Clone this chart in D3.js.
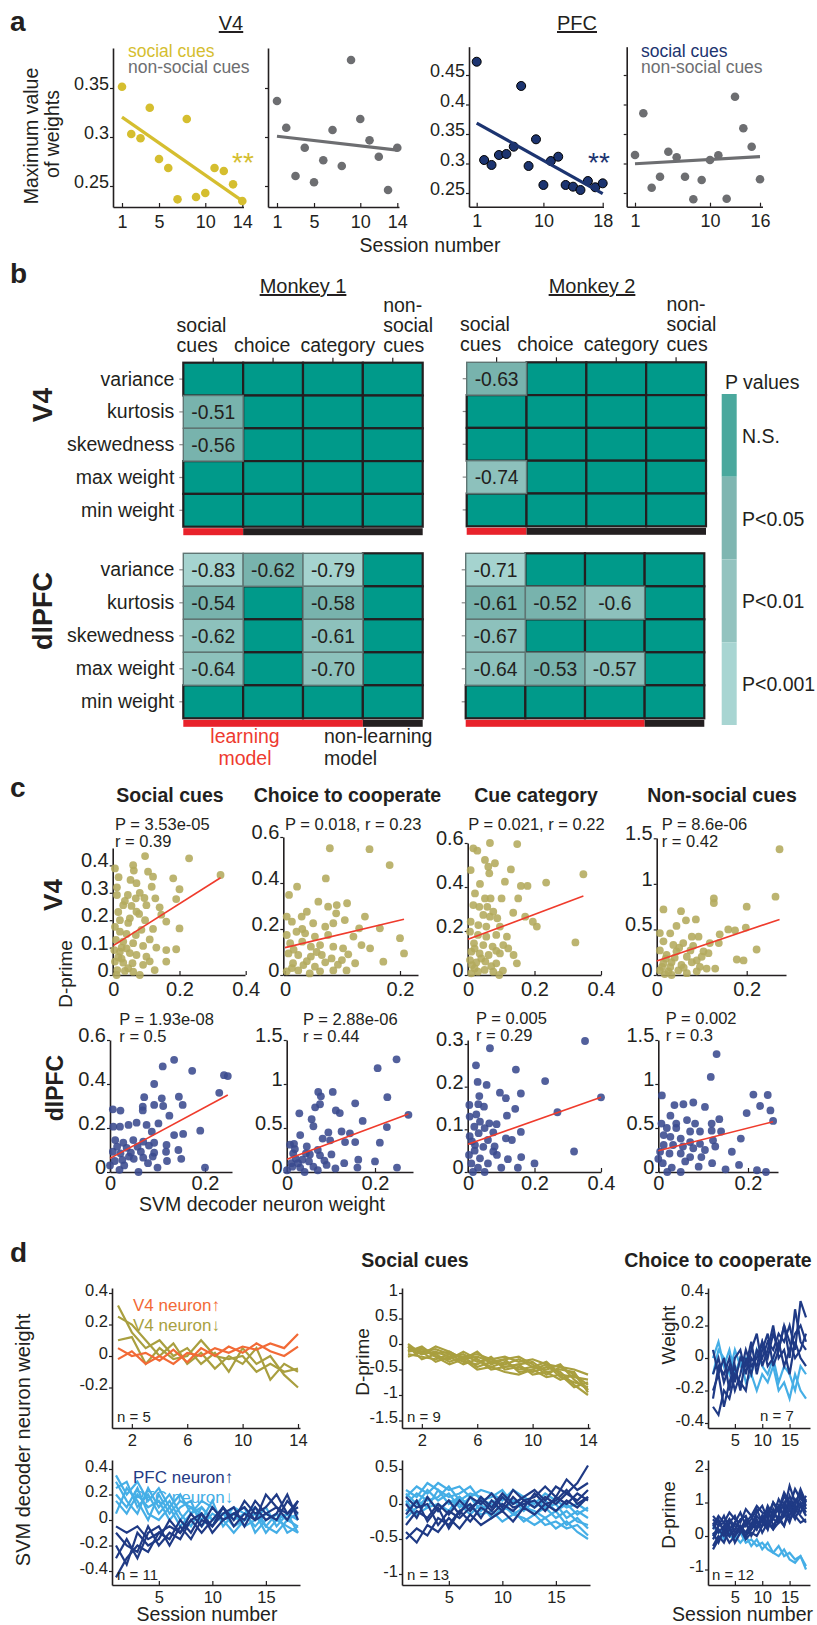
<!DOCTYPE html>
<html>
<head>
<meta charset="utf-8">
<script src="https://cdn.jsdelivr.net/npm/d3@7"></script>
<style>
  body { margin: 0; background: #fff; }
  svg { display: block; }
</style>
</head>
<body>
<svg id="fig" width="817" height="1625"></svg>
<script>
// ---------- panel a: maximum weight per session ----------
const v4SocialMax = [0.3513, 0.3031, 0.2987, 0.3299, 0.2776, 0.2684, 0.2364, 0.3184, 0.2388, 0.2429, 0.2684, 0.2653, 0.2517, 0.2347];
const v4NonSocialMax = [0.3367, 0.3095, 0.2602, 0.2891, 0.2538, 0.2762, 0.3071, 0.2704, 0.3786, 0.3184, 0.2966, 0.2799, 0.2459, 0.2891];
const pfcSocialMax = [0.4725, 0.3059, 0.2975, 0.3144, 0.3161, 0.3285, 0.4314, 0.2958, 0.341, 0.2636, 0.3042, 0.3115, 0.2636, 0.2607, 0.2551, 0.2703, 0.2597, 0.2664];
const pfcNonSocialMax = [0.3144, 0.3851, 0.259, 0.2776, 0.32, 0.3105, 0.2776, 0.2393, 0.272, 0.3059, 0.3139, 0.2403, 0.4132, 0.3597, 0.3285, 0.2732];
const aTicksV4 = [1, 5, 10, 14];
const aTicksPfc = [1, 10, 18];
const aTicksPfcNs = [1, 10, 16];
const aYTicksV4 = [0.25, 0.3, 0.35];
const aYTicksPfc = [0.25, 0.3, 0.35, 0.4, 0.45];

// ---------- panel b: correlation tables ----------
const bRows = ["variance", "kurtosis", "skewedness", "max weight", "min weight"];
const bCols = ["social cues", "choice", "category", "non-social cues"];
// r labels ("" = not significant) and p class (0 N.S., 1 P<0.05, 2 P<0.01, 3 P<0.001)
const m1V4R = [["", "", "", ""], ["-0.51", "", "", ""], ["-0.56", "", "", ""], ["", "", "", ""], ["", "", "", ""]];
const m1V4P = [[0, 0, 0, 0], [1, 0, 0, 0], [1, 0, 0, 0], [0, 0, 0, 0], [0, 0, 0, 0]];
const m2V4R = [["-0.63", "", "", ""], ["", "", "", ""], ["", "", "", ""], ["-0.74", "", "", ""], ["", "", "", ""]];
const m2V4P = [[1, 0, 0, 0], [0, 0, 0, 0], [0, 0, 0, 0], [2, 0, 0, 0], [0, 0, 0, 0]];
const m1PfcR = [["-0.83", "-0.62", "-0.79", ""], ["-0.54", "", "-0.58", ""], ["-0.62", "", "-0.61", ""], ["-0.64", "", "-0.70", ""], ["", "", "", ""]];
const m1PfcP = [[3, 1, 3, 0], [1, 0, 1, 0], [2, 0, 2, 0], [2, 0, 2, 0], [0, 0, 0, 0]];
const m2PfcR = [["-0.71", "", "", ""], ["-0.61", "-0.52", "-0.6", ""], ["-0.67", "", "", ""], ["-0.64", "-0.53", "-0.57", ""], ["", "", "", ""]];
const m2PfcP = [[3, 0, 0, 0], [1, 1, 2, 0], [2, 0, 0, 0], [2, 1, 2, 0], [0, 0, 0, 0]];
const learningCols = [1, 1, 3, 3]; // m1 V4, m2 V4, m1 dlPFC, m2 dlPFC
const pLegend = ["N.S.", "P<0.05", "P<0.01", "P<0.001"];

// ---------- panel c: d-prime vs decoder weight ----------
const cTitles = ["Social cues", "Choice to cooperate", "Cue category", "Non-social cues"];
const cStats = [
  ["P = 3.53e-05", "r = 0.39"], ["P = 0.018, r = 0.23"], ["P = 0.021, r = 0.22"], ["P = 8.6e-06", "r = 0.42"],
  ["P = 1.93e-08", "r = 0.5"], ["P = 2.88e-06", "r = 0.44"], ["P = 0.005", "r = 0.29"], ["P = 0.002", "r = 0.3"]
];
// fitted line: value at weight 0 and at the largest weight
const cFitStart = [0.107, 0.119, 0.162, 0.154, 0.062, 0.144, 0.065, 0.242];
const cFitEnd = [0.355, 0.242, 0.359, 0.61, 0.35, 0.66, 0.175, 0.572];
const cV4Social = [[0.096,0.434],[0.229,0.426],[0.324,0.365],[0.005,0.389],[0.06,0.401],[0.062,0.381],[0.016,0.357],[0.105,0.377],[0.12,0.359],[0.052,0.347],[0.07,0.335],[0.181,0.353],[0.011,0.32],[0.116,0.322],[0.2,0.313],[0.044,0.292],[0.011,0.292],[0.068,0.28],[0.094,0.281],[0.127,0.28],[0.19,0.277],[0.03,0.255],[0.055,0.252],[0.1,0.255],[0.14,0.247],[0.07,0.231],[0.078,0.223],[0.05,0.207],[0.02,0.2],[0.096,0.2],[0.16,0.195],[0.12,0.168],[0.005,0.176],[0.02,0.158],[0.04,0.15],[0.068,0.146],[0.2,0.17],[0.008,0.128],[0.03,0.122],[0.06,0.116],[0.09,0.106],[0.003,0.091],[0.02,0.085],[0.04,0.097],[0.16,0.091],[0.19,0.094],[0.07,0.073],[0.1,0.067],[0.005,0.049],[0.03,0.045],[0.058,0.043],[0.16,0.049],[0.09,0.037],[0.012,0.018],[0.035,0.015],[0.06,0.012],[0.125,0.018],[0.01,0.0],[0.08,0.0],[0.045,0.19],[0.085,0.165],[0.025,0.06],[0.11,0.13],[0.015,0.23],[0.035,0.27],[0.08,0.3],[0.025,0.1],[0.05,0.08],[0.015,0.065],[0.11,0.05],[0.045,0.025],[0.13,0.1],[0.145,0.22]];
const cV4Choice = [[0.078,0.551],[0.147,0.547],[0.182,0.478],[0.071,0.42],[0.007,0.348],[0.021,0.384],[0.003,0.254],[0.012,0.232],[0.029,0.254],[0.038,0.275],[0.058,0.319],[0.075,0.297],[0.09,0.304],[0.108,0.312],[0.089,0.268],[0.049,0.225],[0.07,0.21],[0.084,0.225],[0.104,0.239],[0.139,0.254],[0.129,0.203],[0.165,0.203],[0.2,0.16],[0.207,0.094],[0.003,0.174],[0.02,0.188],[0.035,0.181],[0.052,0.167],[0.075,0.174],[0.119,0.167],[0.009,0.138],[0.03,0.145],[0.045,0.123],[0.061,0.13],[0.084,0.123],[0.101,0.116],[0.133,0.13],[0.148,0.116],[0.006,0.094],[0.023,0.087],[0.045,0.08],[0.064,0.087],[0.081,0.072],[0.099,0.065],[0.122,0.051],[0.014,0.051],[0.032,0.043],[0.052,0.036],[0.07,0.055],[0.003,0.016],[0.023,0.02],[0.043,0.007],[0.061,0.016],[0.084,0.02],[0.107,0.02],[0.171,0.058],[0.015,0.11],[0.038,0.06],[0.055,0.1],[0.092,0.045],[0.012,0.03],[0.03,0.2],[0.11,0.09]];
const cV4Category = [[0.066,0.6],[0.148,0.595],[0.016,0.576],[0.028,0.565],[0.051,0.523],[0.081,0.508],[0.061,0.492],[0.008,0.477],[0.129,0.48],[0.347,0.458],[0.064,0.462],[0.235,0.42],[0.111,0.424],[0.036,0.414],[0.159,0.405],[0.179,0.405],[0.021,0.371],[0.051,0.348],[0.068,0.348],[0.101,0.348],[0.151,0.348],[0.016,0.318],[0.034,0.31],[0.058,0.31],[0.076,0.288],[0.136,0.283],[0.046,0.273],[0.066,0.265],[0.088,0.258],[0.172,0.265],[0.195,0.242],[0.207,0.22],[0.008,0.242],[0.031,0.227],[0.055,0.22],[0.096,0.22],[0.006,0.197],[0.03,0.182],[0.055,0.174],[0.085,0.182],[0.117,0.174],[0.018,0.144],[0.046,0.136],[0.074,0.129],[0.106,0.136],[0.121,0.121],[0.323,0.148],[0.01,0.106],[0.035,0.098],[0.062,0.091],[0.096,0.098],[0.137,0.091],[0.006,0.068],[0.025,0.057],[0.052,0.061],[0.085,0.053],[0.147,0.053],[0.02,0.03],[0.05,0.023],[0.076,0.015],[0.105,0.02],[0.01,0.008],[0.094,0.0],[0.02,0.12],[0.04,0.075],[0.07,0.04],[0.012,0.045],[0.03,0.015],[0.085,0.11]];
const cV4NonSocial = [[0.273,1.38],[0.264,0.86],[0.127,0.84],[0.127,0.79],[0.2,0.75],[0.015,0.72],[0.054,0.7],[0.087,0.61],[0.065,0.6],[0.159,0.5],[0.174,0.49],[0.198,0.52],[0.007,0.46],[0.03,0.457],[0.044,0.538],[0.078,0.42],[0.093,0.42],[0.14,0.446],[0.118,0.35],[0.138,0.35],[0.222,0.28],[0.015,0.37],[0.037,0.33],[0.059,0.35],[0.081,0.32],[0.104,0.26],[0.007,0.27],[0.022,0.22],[0.044,0.26],[0.067,0.2],[0.089,0.16],[0.115,0.24],[0.178,0.17],[0.193,0.16],[0.015,0.13],[0.033,0.14],[0.055,0.11],[0.078,0.14],[0.096,0.09],[0.111,0.07],[0.13,0.07],[0.007,0.05],[0.026,0.04],[0.048,0.05],[0.067,0.02],[0.089,0.04],[0.033,0.0],[0.05,0.3],[0.02,0.18],[0.012,0.09],[0.04,0.19],[0.06,0.08],[0.075,0.27],[0.1,0.2],[0.03,0.085],[0.018,0.01]];
const cPfcSocial = [[0.135,0.51],[0.111,0.48],[0.173,0.46],[0.24,0.44],[0.248,0.436],[0.093,0.4],[0.23,0.36],[0.072,0.34],[0.109,0.335],[0.145,0.342],[0.153,0.305],[0.069,0.297],[0.093,0.305],[0.112,0.3],[0.069,0.28],[0.006,0.285],[0.022,0.279],[0.125,0.256],[0.007,0.206],[0.021,0.206],[0.039,0.214],[0.056,0.224],[0.077,0.214],[0.102,0.221],[0.19,0.188],[0.154,0.173],[0.135,0.168],[0.088,0.183],[0.011,0.145],[0.028,0.133],[0.049,0.145],[0.07,0.138],[0.093,0.133],[0.119,0.123],[0.144,0.1],[0.006,0.092],[0.022,0.085],[0.044,0.088],[0.065,0.092],[0.093,0.088],[0.118,0.092],[0.01,0.05],[0.03,0.03],[0.05,0.06],[0.08,0.04],[0.1,0.02],[0.02,0.01],[0.06,0.0],[0.12,0.05],[0.04,0.07],[0.0,0.03],[0.09,0.07],[0.15,0.06],[0.2,0.02],[0.015,0.115],[0.035,0.11],[0.058,0.115],[0.082,0.12],[0.026,0.055],[0.07,0.065]];
const cPfcChoice = [[0.249,1.28],[0.206,1.18],[0.228,0.85],[0.071,0.91],[0.104,0.91],[0.077,0.86],[0.064,0.735],[0.075,0.77],[0.111,0.7],[0.12,0.67],[0.155,0.78],[0.172,0.58],[0.276,0.65],[0.227,0.51],[0.211,0.333],[0.028,0.667],[0.056,0.6],[0.06,0.52],[0.094,0.45],[0.124,0.46],[0.143,0.44],[0.155,0.34],[0.132,0.34],[0.098,0.36],[0.081,0.38],[0.007,0.31],[0.016,0.32],[0.03,0.42],[0.045,0.29],[0.07,0.25],[0.014,0.21],[0.043,0.21],[0.075,0.19],[0.101,0.2],[0.162,0.14],[0.01,0.1],[0.03,0.05],[0.05,0.12],[0.07,0.02],[0.09,0.08],[0.11,0.04],[0.02,0.15],[0.13,0.1],[0.04,0.0],[0.06,0.06],[0.16,0.05],[0.2,0.12],[0.25,0.05],[0.0,0.02],[0.018,0.26],[0.035,0.14],[0.052,0.2],[0.085,0.13],[0.012,0.06],[0.025,0.1]];
const cPfcCategory = [[0.352,0.307],[0.066,0.29],[0.024,0.25],[0.144,0.24],[0.232,0.213],[0.029,0.211],[0.056,0.204],[0.096,0.186],[0.159,0.184],[0.114,0.173],[0.034,0.178],[0.4,0.175],[0.004,0.157],[0.031,0.159],[0.048,0.153],[0.142,0.148],[0.269,0.14],[0.117,0.132],[0.005,0.13],[0.036,0.118],[0.064,0.114],[0.086,0.112],[0.019,0.106],[0.05,0.103],[0.032,0.091],[0.076,0.093],[0.159,0.094],[0.114,0.079],[0.132,0.075],[0.005,0.084],[0.021,0.063],[0.046,0.059],[0.076,0.048],[0.319,0.048],[0.003,0.04],[0.036,0.032],[0.087,0.04],[0.16,0.035],[0.01,0.02],[0.03,0.01],[0.06,0.02],[0.1,0.01],[0.12,0.03],[0.02,0.05],[0.08,0.06],[0.05,0.0],[0.15,0.01],[0.2,0.02],[0.012,0.072],[0.025,0.135],[0.06,0.075],[0.015,0.0]];
const cPfcNonSocial = [[0.13,1.34],[0.117,1.08],[0.008,0.87],[0.212,0.88],[0.244,0.875],[0.036,0.76],[0.056,0.77],[0.078,0.79],[0.104,0.74],[0.227,0.75],[0.25,0.7],[0.197,0.67],[0.256,0.58],[0.027,0.64],[0.04,0.55],[0.064,0.59],[0.082,0.55],[0.119,0.55],[0.136,0.6],[0.007,0.55],[0.019,0.5],[0.04,0.5],[0.071,0.46],[0.093,0.46],[0.119,0.47],[0.14,0.46],[0.184,0.38],[0.012,0.42],[0.027,0.4],[0.05,0.38],[0.071,0.34],[0.093,0.32],[0.122,0.36],[0.012,0.307],[0.033,0.307],[0.055,0.29],[0.078,0.27],[0.104,0.25],[0.127,0.29],[0.164,0.23],[0.004,0.23],[0.025,0.21],[0.05,0.21],[0.071,0.17],[0.096,0.17],[0.01,0.1],[0.03,0.05],[0.06,0.12],[0.09,0.06],[0.12,0.1],[0.15,0.03],[0.18,0.08],[0.22,0.02],[0.24,0.0],[0.05,0.0],[0.0,0.15],[0.02,0.0]];

// ---------- panel d: single neurons across sessions ----------
const dV4WeightUp = [
  [-0.02, 0.03, -0.05, 0.0, -0.05, 0.02, 0.0, 0.05, 0.02, 0.06, 0.04, 0.08, 0.05, 0.14],
  [0.05, 0.0, 0.02, -0.03, 0.04, -0.04, 0.05, 0.0, 0.06, 0.02, 0.08, 0.03, 0.0, 0.06]
];
const dV4WeightDown = [
  [0.32, 0.15, 0.05, 0.1, 0.0, 0.05, -0.05, 0.02, -0.1, 0.05, -0.05, 0.0, -0.12, -0.2],
  [0.25, 0.2, 0.1, 0.0, 0.08, -0.05, 0.02, -0.08, 0.0, -0.05, 0.05, -0.15, -0.05, -0.1],
  [0.1, 0.12, -0.05, 0.05, -0.02, 0.0, 0.1, 0.0, -0.02, 0.0, -0.1, -0.05, -0.1, -0.08]
];
const dV4Dprime = [
  [-0.05, -0.15, -0.1, -0.2, -0.25, -0.2, -0.3, -0.25, -0.35, -0.3, -0.4, -0.45, -0.6, -0.8],
  [-0.1, -0.1, -0.2, -0.15, -0.3, -0.25, -0.35, -0.4, -0.3, -0.45, -0.5, -0.4, -0.7, -0.9],
  [0.0, -0.2, -0.15, -0.25, -0.2, -0.35, -0.3, -0.45, -0.4, -0.35, -0.55, -0.5, -0.55, -0.95],
  [-0.15, -0.05, -0.25, -0.3, -0.15, -0.3, -0.45, -0.35, -0.5, -0.45, -0.35, -0.6, -0.65, -0.7],
  [-0.2, -0.25, -0.3, -0.2, -0.35, -0.4, -0.25, -0.5, -0.45, -0.55, -0.45, -0.55, -0.8, -1.0],
  [-0.1, -0.2, -0.05, -0.15, -0.3, -0.15, -0.4, -0.3, -0.25, -0.4, -0.6, -0.45, -0.5, -0.6],
  [-0.05, -0.3, -0.2, -0.35, -0.25, -0.45, -0.35, -0.3, -0.55, -0.5, -0.4, -0.65, -0.75, -0.85],
  [-0.25, -0.15, -0.35, -0.25, -0.4, -0.3, -0.5, -0.45, -0.4, -0.6, -0.55, -0.7, -0.6, -0.9],
  [-0.15, -0.1, -0.25, -0.4, -0.3, -0.5, -0.45, -0.55, -0.6, -0.5, -0.65, -0.6, -0.85, -0.75]
];
const dChoiceWeightDown = [
  [0.0, 0.1, -0.05, 0.05, -0.1, 0.0, -0.15, -0.1, -0.2, -0.1, -0.15, -0.05, -0.2, -0.15, -0.25, -0.1, -0.2, -0.25],
  [-0.1, 0.05, 0.0, -0.1, 0.05, -0.05, 0.0, -0.1, 0.05, -0.05, -0.1, 0.0, -0.15, -0.05, -0.1, -0.2, -0.05, -0.1]
];
const dChoiceWeightUp = [
  [-0.2, -0.1, -0.3, -0.15, -0.05, -0.2, 0.0, -0.1, 0.05, 0.0, 0.1, 0.05, 0.15, 0.1, 0.2, 0.05, 0.35, 0.25],
  [-0.3, -0.35, -0.2, -0.25, -0.1, -0.15, -0.2, 0.0, -0.05, 0.1, 0.0, 0.15, 0.05, 0.2, 0.0, 0.3, 0.1, 0.05],
  [0.05, -0.1, 0.0, -0.2, 0.0, 0.05, -0.1, 0.05, 0.15, -0.05, 0.05, 0.2, 0.0, 0.05, -0.1, 0.1, 0.0, -0.05],
  [-0.1, 0.0, -0.15, -0.05, -0.2, -0.1, 0.05, -0.05, 0.0, 0.1, -0.05, 0.0, 0.1, -0.05, 0.05, 0.15, 0.2, 0.1],
  [-0.25, -0.05, -0.1, 0.0, -0.15, 0.0, -0.05, 0.1, -0.1, 0.05, 0.15, -0.05, 0.05, 0.2, 0.1, 0.0, 0.05, 0.15]
];
const dPfcWeightDown = [
  [0.35, 0.2, 0.3, 0.15, 0.25, 0.1, 0.2, 0.05, 0.15, 0.1, 0.0, 0.1, 0.05, -0.05, 0.05, 0.0, -0.05, -0.1],
  [0.25, 0.3, 0.1, 0.2, 0.05, 0.15, 0.0, 0.1, 0.05, -0.05, 0.1, 0.0, 0.05, 0.1, -0.05, 0.05, 0.0, 0.05],
  [0.15, 0.05, 0.2, 0.1, 0.15, 0.0, 0.1, 0.15, -0.05, 0.05, 0.0, -0.1, 0.0, 0.05, -0.05, -0.1, 0.0, -0.05],
  [0.3, 0.15, 0.05, 0.25, 0.1, 0.2, 0.05, -0.05, 0.1, 0.0, 0.05, 0.05, -0.05, 0.0, 0.1, -0.05, 0.05, 0.0],
  [0.05, 0.25, 0.15, 0.0, 0.2, 0.05, 0.15, 0.1, 0.0, 0.15, -0.05, 0.05, 0.1, -0.1, 0.0, 0.05, -0.1, -0.05],
  [0.2, 0.1, 0.25, 0.05, 0.0, 0.1, -0.05, 0.05, 0.1, 0.0, 0.05, -0.05, 0.0, 0.05, -0.1, 0.0, 0.05, -0.1]
];
const dPfcWeightUp = [
  [-0.45, -0.3, -0.2, -0.25, -0.1, -0.15, 0.0, -0.1, 0.05, -0.05, 0.1, 0.0, 0.15, 0.05, 0.1, 0.2, 0.05, 0.1],
  [-0.2, -0.35, -0.1, -0.2, -0.15, 0.0, -0.1, 0.05, -0.05, 0.1, 0.0, 0.05, 0.0, 0.15, 0.05, 0.0, 0.15, 0.05],
  [-0.1, -0.2, -0.25, -0.05, -0.2, -0.1, -0.15, 0.0, -0.1, 0.0, 0.1, -0.05, 0.05, 0.0, 0.2, 0.1, 0.0, 0.15],
  [-0.3, -0.15, -0.3, -0.1, -0.05, -0.2, -0.05, -0.15, 0.0, -0.05, 0.05, 0.1, -0.05, 0.1, 0.0, 0.05, 0.2, 0.0],
  [-0.05, -0.1, -0.05, -0.15, -0.1, -0.05, -0.1, 0.0, 0.05, -0.1, 0.0, 0.05, 0.1, 0.0, 0.05, 0.1, 0.05, 0.15]
];
const dPfcDprimeDown = [
  [0.1, 0.25, 0.15, 0.3, 0.2, 0.25, 0.1, 0.2, 0.15, 0.05, 0.2, 0.1, 0.0, 0.15, 0.05, -0.05, 0.0, -0.1],
  [0.2, 0.1, 0.3, 0.2, 0.1, 0.15, 0.25, 0.05, 0.1, 0.2, 0.0, 0.1, -0.05, 0.05, -0.1, 0.0, -0.15, -0.05],
  [0.0, 0.15, 0.05, 0.1, 0.25, 0.05, 0.15, 0.1, -0.05, 0.1, 0.05, -0.1, 0.05, -0.05, 0.0, -0.2, -0.1, -0.2],
  [-0.1, 0.05, -0.05, 0.2, 0.0, 0.1, -0.05, 0.05, 0.0, -0.1, 0.05, 0.0, -0.15, -0.05, -0.2, -0.1, -0.25, -0.3],
  [0.15, 0.0, 0.2, 0.05, 0.15, -0.05, 0.1, -0.1, 0.05, 0.0, -0.15, -0.05, -0.1, -0.2, -0.1, -0.3, -0.2, -0.35],
  [-0.2, -0.05, 0.1, -0.1, 0.05, 0.0, -0.15, 0.0, -0.2, -0.05, -0.1, -0.25, -0.15, -0.3, -0.25, -0.35, -0.3, -0.45],
  [0.05, -0.15, -0.05, 0.0, -0.1, 0.1, -0.05, -0.15, -0.1, -0.25, -0.15, -0.2, -0.3, -0.2, -0.35, -0.25, -0.4, -0.5]
];
const dPfcDprimeUp = [
  [-0.3, -0.1, -0.2, 0.0, -0.15, 0.05, -0.1, 0.1, -0.05, 0.15, 0.0, 0.1, 0.2, 0.05, 0.25, 0.15, 0.3, 0.55],
  [0.0, -0.2, 0.1, -0.1, 0.05, -0.15, 0.1, 0.0, 0.15, -0.05, 0.2, 0.05, 0.1, 0.25, 0.1, 0.35, 0.2, 0.3],
  [-0.5, -0.35, -0.45, -0.2, -0.3, -0.1, -0.25, -0.05, -0.15, 0.0, -0.1, 0.05, -0.05, 0.1, 0.0, 0.15, 0.05, 0.2],
  [-0.15, 0.05, -0.25, -0.05, -0.35, -0.1, 0.0, -0.2, 0.05, -0.1, 0.1, -0.05, 0.15, 0.0, 0.05, 0.2, 0.0, 0.1],
  [0.1, -0.05, 0.0, -0.3, -0.1, -0.2, -0.05, 0.05, -0.1, 0.1, -0.05, 0.0, 0.05, -0.1, 0.1, 0.0, 0.15, 0.05],
  [-0.4, -0.55, -0.3, -0.4, -0.2, -0.35, -0.15, -0.3, -0.2, -0.1, -0.25, -0.05, -0.15, 0.0, -0.1, 0.05, -0.05, 0.1]
];
const dChoiceDprimeDown = [
  [0.3, 0.1, 0.2, 0.0, -0.1, 0.1, -0.2, -0.1, -0.3, -0.2, -0.4, -0.5, -0.3, -0.6, -0.5, -0.7, -0.6, -1.0],
  [0.0, 0.2, -0.1, 0.1, 0.0, -0.2, 0.0, -0.3, -0.1, -0.4, -0.2, -0.5, -0.6, -0.4, -0.7, -0.8, -0.6, -0.9]
];
const dChoiceDprimeUp = [
  [0.5, 0.3, 0.6, 0.2, 0.4, 0.7, 0.3, 0.5, 0.8, 0.4, 0.9, 0.6, 1.1, 0.8, 1.5, 1.0, 1.3, 0.9],
  [0.2, 0.5, 0.1, 0.4, 0.6, 0.2, 0.5, 0.3, 0.7, 0.9, 0.5, 1.0, 0.7, 1.2, 0.9, 1.4, 1.1, 1.0],
  [-0.3, 0.0, -0.2, 0.2, 0.0, 0.3, 0.1, 0.4, 0.2, 0.6, 0.3, 0.5, 0.9, 0.6, 1.0, 0.7, 1.2, 0.8],
  [0.0, 0.3, 0.4, 0.0, 0.2, 0.5, 0.6, 0.2, 0.4, 0.3, 0.7, 0.5, 0.4, 0.8, 0.6, 1.1, 0.9, 0.6],
  [0.4, 0.1, 0.3, 0.5, 0.1, 0.3, 0.0, 0.2, 0.5, 0.1, 0.4, 0.2, 0.6, 0.3, 0.8, 0.5, 0.9, 1.2],
  [-0.1, 0.2, 0.0, 0.3, -0.2, 0.1, 0.4, 0.0, 0.3, 0.6, 0.2, 0.8, 0.4, 0.6, 1.2, 0.8, 0.6, 0.4],
  [0.6, 0.4, 0.2, 0.5, 0.3, 0.1, 0.4, 0.6, 0.2, 0.5, 0.8, 0.3, 0.6, 1.0, 0.5, 0.7, 1.0, 0.7],
  [0.1, -0.2, 0.2, 0.0, 0.4, 0.2, 0.0, 0.3, 0.6, 0.4, 0.2, 0.7, 0.5, 0.3, 0.9, 0.6, 0.4, 0.5],
  [-0.4, -0.1, 0.1, -0.2, 0.0, 0.2, -0.1, 0.1, 0.0, 0.3, 0.5, 0.2, 0.4, 0.7, 0.4, 0.9, 0.7, 1.1],
  [0.3, 0.6, 0.4, 0.7, 0.5, 0.4, 0.8, 0.6, 0.9, 0.7, 0.6, 1.0, 0.8, 1.3, 1.0, 0.9, 1.4, 1.0]
];

// ---------- styling ----------
const FONT = '"Liberation Sans", Arial, Helvetica, sans-serif';
const INK = "#231f20";
const YELLOW = "#d5be2f", GRAY = "#6d6e71", NAVY = "#1c3470";
const OLIVE_DOT = "#b3aa5c", PFC_DOT = "#3a4a8e", FIT_RED = "#ef3b2c";
const ORANGE = "#f26a36", OLIVE = "#a99f3f", DARKBLUE = "#1f3a85", LIGHTBLUE = "#45aee6";
const CELL = ["#009a8a", "#78b3ad", "#8dc1bc", "#a5d3cf"];
const BAR = ["#4aa89d", "#7fb6b1", "#93c3bf", "#a8d5d2"];

const svg = d3.select("#fig").attr("font-family", FONT);
svg.append("rect").attr("width", 817).attr("height", 1625).attr("fill", "#fff");

// linear scale given two reference points, spanning pixel range lo..hi
function lin(d0, r0, d1, r1, lo, hi) {
  const s = d3.scaleLinear().domain([d0, d1]).range([r0, r1]);
  return d3.scaleLinear().domain([s.invert(lo), s.invert(hi)]).range([lo, hi]);
}
const fmt = d => String(+d.toFixed(3));

function label(x, y, str, o = {}) {
  const t = svg.append("text").attr("x", x).attr("y", y).text(str)
    .attr("font-size", o.size || 18)
    .attr("fill", o.fill || INK)
    .attr("text-anchor", o.anchor || "start");
  if (o.bold) t.attr("font-weight", "bold");
  if (o.rotate) t.attr("transform", `rotate(-90,${x},${y})`);
  if (o.underline) t.attr("text-decoration", "underline");
  return t;
}

function drawAxes(x, y, o) {
  const g = svg.append("g");
  const gx = g.append("g").attr("transform", `translate(0,${y.range()[0]})`)
    .call(d3.axisBottom(x).tickValues(o.xt).tickSizeInner(-4).tickSizeOuter(0)
      .tickPadding(o.xpad).tickFormat(fmt));
  const gy = g.append("g").attr("transform", `translate(${x.range()[0]},0)`)
    .call(d3.axisLeft(y).tickValues(o.yt).tickSizeInner(3).tickSizeOuter(0)
      .tickPadding(1).tickFormat(o.noYLabels ? "" : fmt));
  [gx, gy].forEach(a => {
    a.select(".domain").attr("stroke", INK).attr("stroke-width", 1.6);
    a.selectAll(".tick line").attr("stroke", INK).attr("stroke-width", 1.2);
    a.selectAll("text").attr("font-size", o.fs).attr("font-family", FONT).attr("fill", INK);
  });
  gy.selectAll("text").attr("y", -(o.yoff || 0));
  return g;
}

// ================= panel a =================
label(10, 31, "a", { size: 28, bold: true });
label(231, 30, "V4", { size: 20, anchor: "middle", underline: true });
label(577, 30, "PFC", { size: 20, anchor: "middle", underline: true });

const yA1 = lin(0.3, 137, 0.25, 186, 207, 48);
const yA3 = lin(0.25, 193, 0.45, 75, 206.7, 46.7);
const aPanels = [
  { vals: v4SocialMax, x: lin(1, 122, 14, 242.3, 113, 243.5), y: yA1, xt: aTicksV4, yt: aYTicksV4, fill: YELLOW, line: YELLOW, stroke: "none", r: 4.3 },
  { vals: v4NonSocialMax, x: lin(1, 277, 14, 397.3, 268, 399), y: yA1, xt: aTicksV4, yt: aYTicksV4, fill: GRAY, line: GRAY, stroke: "none", r: 4.3, noYLabels: true },
  { vals: pfcSocialMax, x: lin(1, 476.7, 18, 602.7, 469, 603.5), y: yA3, xt: aTicksPfc, yt: aYTicksPfc, fill: NAVY, line: NAVY, stroke: "#000", r: 4.5 },
  { vals: pfcNonSocialMax, x: lin(1, 635, 16, 760, 626.7, 762.5), y: yA3, xt: aTicksPfcNs, yt: aYTicksPfc, fill: GRAY, line: GRAY, stroke: "none", r: 4.3, noYLabels: true }
];
aPanels.forEach(p => {
  drawAxes(p.x, p.y, { xt: p.xt, yt: p.yt, xpad: 8, fs: 18, yoff: 4, noYLabels: p.noYLabels });
  const pts = p.vals.map((v, i) => [i + 1, v]);
  // least-squares fit drawn over the session range
  const mx = d3.mean(pts, d => d[0]), my = d3.mean(pts, d => d[1]);
  const slope = d3.sum(pts, d => (d[0] - mx) * (d[1] - my)) / d3.sum(pts, d => (d[0] - mx) ** 2);
  const ends = [1, pts.length].map(s => [s, my + slope * (s - mx)]);
  svg.append("g").selectAll("circle").data(pts).join("circle")
    .attr("cx", d => p.x(d[0])).attr("cy", d => p.y(d[1])).attr("r", p.r)
    .attr("fill", p.fill).attr("stroke", p.stroke).attr("stroke-width", 1);
  svg.append("path").attr("d", d3.line().x(d => p.x(d[0])).y(d => p.y(d[1]))(ends))
    .attr("stroke", p.line).attr("stroke-width", 3.2).attr("fill", "none");
});
label(128, 57, "social cues", { size: 17.5, fill: YELLOW });
label(128, 73, "non-social cues", { size: 17.5, fill: GRAY });
label(641, 57, "social cues", { size: 17.5, fill: NAVY });
label(641, 73, "non-social cues", { size: 17.5, fill: GRAY });
label(232, 172, "**", { size: 28, fill: YELLOW });
label(588, 172, "**", { size: 28, fill: NAVY });
label(38, 136, "Maximum value", { size: 19.5, anchor: "middle", rotate: true });
label(59, 134, "of weights", { size: 19.5, anchor: "middle", rotate: true });
label(430, 252, "Session number", { size: 19.5, anchor: "middle" });

// ================= panel b =================
label(10, 283, "b", { size: 28, bold: true });
label(303, 293, "Monkey 1", { size: 20, anchor: "middle", underline: true });
label(592, 293, "Monkey 2", { size: 20, anchor: "middle", underline: true });

const colLabelLines = [["social", "cues"], ["choice"], ["category"], ["non-", "social", "cues"]];
const tables = [
  { left: 183.3, top: 362.7, w: 239.4, h: 164, r: m1V4R, p: m1V4P, learn: learningCols[0], rowLabels: true, colLabels: true },
  { left: 466.7, top: 362.3, w: 239.3, h: 164, r: m2V4R, p: m2V4P, learn: learningCols[1], rowLabels: false, colLabels: true },
  { left: 183.3, top: 553.3, w: 239.4, h: 165, r: m1PfcR, p: m1PfcP, learn: learningCols[2], rowLabels: true, colLabels: false },
  { left: 465.7, top: 553.3, w: 238.6, h: 165, r: m2PfcR, p: m2PfcP, learn: learningCols[3], rowLabels: false, colLabels: false }
];
tables.forEach(t => {
  const x = d3.scaleBand().domain(bCols).range([t.left, t.left + t.w]);
  const y = d3.scaleBand().domain(bRows).range([t.top, t.top + t.h]);
  const cells = [];
  bRows.forEach((row, i) => bCols.forEach((col, j) => cells.push({ row, col, r: t.r[i][j], p: t.p[i][j] })));
  const g = svg.append("g");
  // row and column ticks
  g.selectAll("line.rt").data(bRows).join("line")
    .attr("x1", t.left - 4).attr("x2", t.left).attr("y1", d => y(d) + y.bandwidth() / 2).attr("y2", d => y(d) + y.bandwidth() / 2)
    .attr("stroke", "#888").attr("stroke-width", 1.2);
  if (t.colLabels) {
    g.selectAll("line.ct").data(bCols).join("line")
      .attr("x1", d => x(d) + x.bandwidth() / 2).attr("x2", d => x(d) + x.bandwidth() / 2)
      .attr("y1", t.top - 5).attr("y2", t.top).attr("stroke", INK).attr("stroke-width", 1.2);
  }
  const ns = cells.filter(c => c.p === 0), sig = cells.filter(c => c.p > 0);
  g.selectAll("rect.ns").data(ns).join("rect")
    .attr("x", d => x(d.col)).attr("y", d => y(d.row)).attr("width", x.bandwidth()).attr("height", y.bandwidth())
    .attr("fill", CELL[0]).attr("stroke", INK).attr("stroke-width", 2.2);
  g.selectAll("rect.sig").data(sig).join("rect")
    .attr("x", d => x(d.col)).attr("y", d => y(d.row)).attr("width", x.bandwidth()).attr("height", y.bandwidth())
    .attr("fill", d => CELL[d.p]).attr("stroke", "#5f7573").attr("stroke-width", 1.4);
  g.selectAll("text.v").data(sig).join("text")
    .attr("x", d => x(d.col) + x.bandwidth() / 2).attr("y", d => y(d.row) + y.bandwidth() / 2 + 7)
    .attr("text-anchor", "middle").attr("font-size", 19.3).attr("fill", INK).text(d => d.r);
  // learning / non-learning model bar
  const by = t.top + t.h + 1.5;
  g.append("rect").attr("x", t.left).attr("y", by).attr("width", x.bandwidth() * t.learn).attr("height", 7).attr("fill", "#e8222b");
  g.append("rect").attr("x", t.left + x.bandwidth() * t.learn).attr("y", by).attr("width", x.bandwidth() * (4 - t.learn)).attr("height", 7).attr("fill", INK);
  if (t.rowLabels) {
    g.selectAll("text.rl").data(bRows).join("text")
      .attr("x", t.left - 9).attr("y", d => y(d) + y.bandwidth() / 2 + 6.5)
      .attr("text-anchor", "end").attr("font-size", 19.5).attr("fill", INK).text(d => d);
  }
  if (t.colLabels) {
    const place = [
      { dx: c => x(c) - 6.7, anchor: "start" },
      { dx: c => x(c) + x.bandwidth() / 2 - 11, anchor: "middle" },
      { dx: c => x(c) + x.bandwidth() / 2 + 5, anchor: "middle" },
      { dx: c => x(c) + 20.3, anchor: "start" }
    ];
    bCols.forEach((c, j) => {
      const lines = colLabelLines[j];
      lines.forEach((ln, k) => {
        g.append("text").attr("x", place[j].dx(c)).attr("y", t.top - 11 - 20 * (lines.length - 1 - k))
          .attr("text-anchor", place[j].anchor).attr("font-size", 19.5).attr("fill", INK).text(ln);
      });
    });
  }
});
label(52, 405, "V4", { size: 28, bold: true, anchor: "middle", rotate: true });
label(52, 611, "dlPFC", { size: 27, bold: true, anchor: "middle", rotate: true });
label(245, 743, "learning", { size: 19.5, anchor: "middle", fill: "#ee3a2f" });
label(245, 765, "model", { size: 19.5, anchor: "middle", fill: "#ee3a2f" });
label(324, 743, "non-learning", { size: 19.5 });
label(324, 765, "model", { size: 19.5 });

// p-value colour bar
const pBand = d3.scaleBand().domain(pLegend).range([394, 725]);
svg.append("g").selectAll("rect").data(pLegend).join("rect")
  .attr("x", 721.7).attr("y", d => pBand(d)).attr("width", 15).attr("height", pBand.bandwidth())
  .attr("fill", (d, i) => BAR[i]);
svg.append("g").selectAll("text").data(pLegend).join("text")
  .attr("x", 742).attr("y", d => pBand(d) + pBand.bandwidth() / 2 + 7.5)
  .attr("font-size", 19.5).attr("fill", INK).text(d => d);
label(725, 389, "P values", { size: 19.5 });

// ================= panel c =================
label(10, 797, "c", { size: 28, bold: true });
const cTitleX = [170, 347.5, 536, 722];
cTitles.forEach((t, i) => label(cTitleX[i], 802, t, { size: 19.5, bold: true, anchor: "middle" }));
const cPanels = [
  { data: cV4Social, x: lin(0, 113.3, 0.4, 245.7, 112.7, 245), y: lin(0, 975, 0.4, 865.4, 975, 848), xt: [0, 0.2, 0.4], yt: [0, 0.1, 0.2, 0.3, 0.4], fill: OLIVE_DOT, tx: 115, ty: 830 },
  { data: cV4Choice, x: lin(0, 285, 0.2, 400, 283.3, 418), y: lin(0, 975, 0.6, 837, 975, 837), xt: [0, 0.2], yt: [0, 0.2, 0.4, 0.6], fill: OLIVE_DOT, tx: 285, ty: 830 },
  { data: cV4Category, x: lin(0, 468, 0.4, 601, 467.7, 601), y: lin(0, 975, 0.6, 843, 975, 843), xt: [0, 0.2, 0.4], yt: [0, 0.2, 0.4, 0.6], fill: OLIVE_DOT, tx: 468.3, ty: 830 },
  { data: cV4NonSocial, x: lin(0, 656.7, 0.2, 746.7, 656.7, 786), y: lin(0, 975, 1.5, 838.3, 975, 838), xt: [0, 0.2], yt: [0, 0.5, 1, 1.5], fill: OLIVE_DOT, tx: 661.7, ty: 830 },
  { data: cPfcSocial, x: lin(0, 110, 0.2, 205, 110, 232), y: lin(0, 1172, 0.6, 1040, 1172, 1040), xt: [0, 0.2], yt: [0, 0.2, 0.4, 0.6], fill: PFC_DOT, tx: 119.3, ty: 1025 },
  { data: cPfcChoice, x: lin(0, 287, 0.2, 375, 286.7, 413), y: lin(0, 1172, 1.5, 1040, 1172, 1040), xt: [0, 0.2], yt: [0, 0.5, 1, 1.5], fill: PFC_DOT, tx: 303, ty: 1025 },
  { data: cPfcCategory, x: lin(0, 468, 0.4, 601, 467.7, 601), y: lin(0, 1172, 0.3, 1044, 1172, 1040), xt: [0, 0.2, 0.4], yt: [0, 0.1, 0.2, 0.3], fill: PFC_DOT, tx: 476, ty: 1024 },
  { data: cPfcNonSocial, x: lin(0, 658.3, 0.2, 748, 658.3, 778), y: lin(0, 1172, 1.5, 1040, 1172, 1040), xt: [0, 0.2], yt: [0, 0.5, 1, 1.5], fill: PFC_DOT, tx: 665.7, ty: 1024 }
];
cPanels.forEach((p, i) => {
  drawAxes(p.x, p.y, { xt: p.xt, yt: p.yt, xpad: i < 4 ? 7 : 4, fs: 20, yoff: 5 });
  svg.append("g").selectAll("circle").data(p.data).join("circle")
    .attr("cx", d => p.x(d[0])).attr("cy", d => p.y(d[1])).attr("r", 3.9)
    .attr("fill", p.fill).attr("fill-opacity", 0.88);
  const xMax = d3.max(p.data, d => d[0]);
  svg.append("path")
    .attr("d", d3.line().x(d => p.x(d[0])).y(d => p.y(d[1]))([[0, cFitStart[i]], [xMax, cFitEnd[i]]]))
    .attr("stroke", FIT_RED).attr("stroke-width", 1.6).attr("fill", "none");
  cStats[i].forEach((s, k) => label(p.tx, p.ty + 16.7 * k, s, { size: 16.5 }));
});
label(62, 895, "V4", { size: 26, bold: true, anchor: "middle", rotate: true });
label(72, 974, "D-prime", { size: 19, anchor: "middle", rotate: true });
label(63, 1088, "dlPFC", { size: 23, bold: true, anchor: "middle", rotate: true });
label(262, 1211, "SVM decoder neuron weight", { size: 19.5, anchor: "middle" });

// ================= panel d =================
label(10, 1262, "d", { size: 28, bold: true });
label(415, 1267, "Social cues", { size: 19.5, bold: true, anchor: "middle" });
label(718, 1267, "Choice to cooperate", { size: 19.5, bold: true, anchor: "middle" });
const dPanels = [
  { sets: [[dV4WeightDown, OLIVE], [dV4WeightUp, ORANGE]], x: lin(1, 118, 14, 298, 112, 300), y: lin(0, 1356, 0.4, 1293, 1428, 1288), xt: [2, 6, 10, 14], yt: [-0.2, 0, 0.2, 0.4], nl: "n = 5", nx: 117, ny: 1422 },
  { sets: [[dV4Dprime, OLIVE]], x: lin(1, 408, 14, 588, 402, 590), y: lin(0, 1344, 1, 1293, 1428, 1288), xt: [2, 6, 10, 14], yt: [-1.5, -1, -0.5, 0, 0.5, 1], nl: "n = 9", nx: 407, ny: 1422 },
  { sets: [[dChoiceWeightDown, LIGHTBLUE], [dChoiceWeightUp, DARKBLUE]], x: lin(1, 713, 18, 806, 708, 810), y: lin(0, 1358, 0.4, 1293, 1428, 1288), xt: [5, 10, 15], yt: [-0.4, -0.2, 0, 0.2, 0.4], nl: "n = 7", nx: 760, ny: 1421 },
  { sets: [[dPfcWeightDown, LIGHTBLUE], [dPfcWeightUp, DARKBLUE]], x: lin(1, 116, 18, 298, 112, 300), y: lin(0, 1520, 0.4, 1469, 1585, 1460), xt: [5, 10, 15], yt: [-0.4, -0.2, 0, 0.2, 0.4], nl: "n = 11", nx: 117, ny: 1580 },
  { sets: [[dPfcDprimeDown, LIGHTBLUE], [dPfcDprimeUp, DARKBLUE]], x: lin(1, 406, 18, 588, 402, 590), y: lin(0, 1504, 0.5, 1469, 1585, 1460), xt: [5, 10, 15], yt: [-1, -0.5, 0, 0.5], nl: "n = 13", nx: 407, ny: 1580 },
  { sets: [[dChoiceDprimeDown, LIGHTBLUE], [dChoiceDprimeUp, DARKBLUE]], x: lin(1, 713, 18, 806, 708, 810), y: lin(0, 1536, 2, 1469, 1585, 1460), xt: [5, 10, 15], yt: [-1, 0, 1, 2], nl: "n = 12", nx: 712, ny: 1580 }
];
dPanels.forEach(p => {
  drawAxes(p.x, p.y, { xt: p.xt, yt: p.yt, xpad: 6, fs: 16.5, yoff: 3 });
  const line = d3.line().x((d, i) => p.x(i + 1)).y(d => p.y(d));
  p.sets.forEach(([lines, color]) => {
    svg.append("g").selectAll("path").data(lines).join("path")
      .attr("d", line).attr("fill", "none").attr("stroke", color).attr("stroke-width", 2.2);
  });
  label(p.nx, p.ny, p.nl, { size: 15 });
});
label(133, 1311, "V4 neuron\u2191", { size: 17, fill: ORANGE });
label(133, 1331, "V4 neuron\u2193", { size: 17, fill: OLIVE });
label(133, 1483, "PFC neuron\u2191", { size: 17, fill: DARKBLUE });
label(133, 1503, "PFC neuron\u2193", { size: 17, fill: LIGHTBLUE });
label(30, 1440, "SVM decoder neuron weight", { size: 20, anchor: "middle", rotate: true });
label(369, 1362, "D-prime", { size: 19, anchor: "middle", rotate: true });
label(675, 1335, "Weight", { size: 19, anchor: "middle", rotate: true });
label(675, 1515, "D-prime", { size: 19, anchor: "middle", rotate: true });
label(207, 1621, "Session number", { size: 19.5, anchor: "middle" });
label(813, 1621, "Session number", { size: 19.5, anchor: "end" });
</script>
</body>
</html>
